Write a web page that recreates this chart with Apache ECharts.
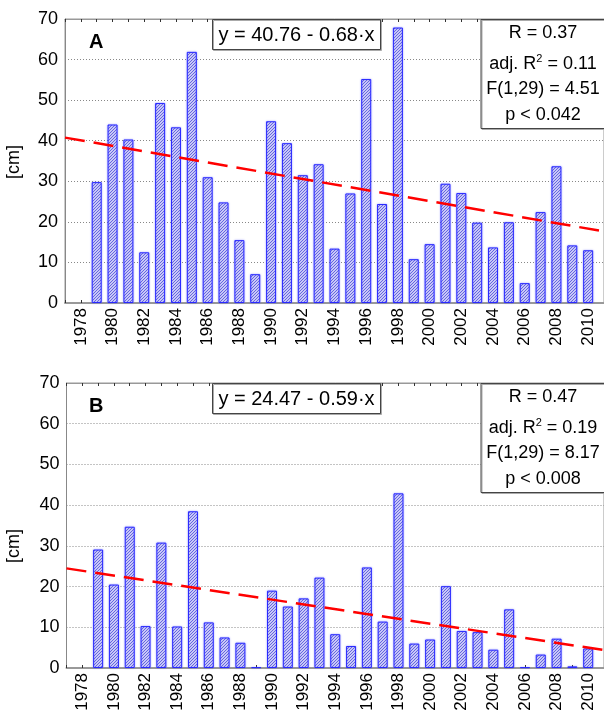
<!DOCTYPE html>
<html>
<head>
<meta charset="utf-8">
<script src="https://cdn.jsdelivr.net/npm/echarts@6/dist/echarts.min.js"></script>
<style>
html,body{margin:0;padding:0;background:#fff;}
#chart{width:604px;height:714px;}
</style>
</head>
<body>
<div id="chart"></div>
<script>
// ---- data ----
const years = [1979,1980,1981,1982,1983,1984,1985,1986,1987,1988,1989,1990,1991,1992,1993,1994,
               1995,1996,1997,1998,1999,2000,2001,2002,2003,2004,2005,2006,2007,2008,2009,2010];
const valuesA = [29.8,44.0,40.3,12.5,49.3,43.3,61.9,31.0,24.8,15.5,7.1,44.8,39.4,31.5,34.2,13.4,
                 27.0,55.2,24.4,67.9,10.8,14.5,29.4,27.1,19.8,13.7,19.9,4.9,22.4,33.7,14.2,13.0];
const valuesB = [29.1,20.5,34.7,10.3,30.8,10.2,38.5,11.2,7.5,6.2,0.2,19.0,15.1,17.1,22.2,8.3,
                 5.4,24.7,11.4,42.9,6.0,7.0,20.1,9.1,8.8,4.5,14.4,0.2,3.3,7.2,0.4,4.8];
const trendA = [[1977, 40.76],[2011, 17.64]];
const trendB = [[1977, 24.47],[2011, 4.41]];
const xTickLabels = ['1978','1980','1982','1984','1986','1988','1990','1992','1994','1996','1998','2000','2002','2004','2006','2008','2010'];
const yTicks = [0,10,20,30,40,50,60,70];
const panelLabels = ['A','B'];
const equations = ['y = 40.76 - 0.68·x','y = 24.47 - 0.59·x'];
const statsR = ['R = 0.37','R = 0.47'];
const statsAdj = ['0.11','0.19'];
const statsF = ['F(1,29) = 4.51','F(1,29) = 8.17'];
const statsP = ['p < 0.042','p < 0.008'];
const yName = '[cm]';

// ---- hatch pattern ----
function makeHatch(){
  const c = document.createElement('canvas');
  c.width = 3; c.height = 3;
  const g = c.getContext('2d');
  g.fillStyle = '#c9c9f7';
  g.fillRect(0,0,3,3);
  g.fillStyle = '#6666e0';
  for (let i=0;i<3;i++){ g.fillRect(i,2-i,1,1); }
  return c;
}
const hatch = {image: makeHatch(), repeat: 'repeat'};

const FONT = 'Liberation Sans, Arial, sans-serif';
const grids = [
  {left: 65, top: 19, height: 284, right: -3},
  {left: 66.5, top: 383, height: 285, right: -3}
];
const nameY = [162, 546];

const chart = echarts.init(document.getElementById('chart'), null, {renderer:'canvas'});

const xAxes = [], yAxes = [], series = [], graphics = [];
grids.forEach((g, i) => {
  g.show = true; g.borderColor = '#999'; g.borderWidth = 1; g.backgroundColor = 'transparent';
  xAxes.push({
    type: 'value', gridIndex: i, min: 1977, max: 2011, interval: 1, position: 'bottom',
    axisLine: {show: true, lineStyle: {color: '#999', width: 2}},
    axisTick: {show: true, inside: true, length: 3, lineStyle: {color: '#333'}},
    axisLabel: {rotate: 90, margin: 5, fontSize: 17, color: '#000', fontFamily: FONT,
      formatter: v => xTickLabels.includes(String(v)) ? String(v) : ''},
    splitLine: {show: false}
  });
  xAxes.push({
    type: 'value', gridIndex: i, min: 1977, max: 2011, interval: 1, position: 'top',
    axisLine: {show: true, lineStyle: {color: '#999', width: 1}},
    axisTick: {show: true, inside: true, length: 3, lineStyle: {color: '#333'}},
    axisLabel: {show: false}, splitLine: {show: false}
  });
  yAxes.push({
    type: 'value', gridIndex: i, min: yTicks[0], max: yTicks[yTicks.length-1], interval: 10,
    axisLine: {show: true, lineStyle: {color: '#888', width: 1}},
    axisTick: {show: false},
    axisLabel: {fontSize: 18, color: '#000', fontFamily: FONT, margin: 7},
    splitLine: {show: true, lineStyle: {color: '#888', width: 1, type: [1,2]}}
  });
  const vals = i === 0 ? valuesA : valuesB;
  series.push({
    type: 'bar', xAxisIndex: i*2, yAxisIndex: i, barWidth: 10,
    data: years.map((y, k) => [y, vals[k]]),
    itemStyle: {color: hatch, borderColor: '#2a2aff', borderWidth: 1,
      shadowColor: 'rgba(90,90,255,0.45)', shadowBlur: 2},
    emphasis: {disabled: true}, animation: false, z: 2
  });
  series.push({
    type: 'line', xAxisIndex: i*2, yAxisIndex: i,
    data: i === 0 ? trendA : trendB, symbol: 'none',
    lineStyle: {color: '#ff0000', width: 2.5, type: [20, 9]},
    animation: false, z: 5
  });

  const top = g.top;
  graphics.push({type: 'text', x: 14, y: nameY[i], rotation: Math.PI/2, z: 100,
    style: {text: yName, font: '18px ' + FONT, fill: '#000', align: 'center', verticalAlign: 'middle'}});
  graphics.push({type: 'text', left: 89, top: top + 13, z: 100,
    style: {text: panelLabels[i], font: 'bold 20px ' + FONT, fill: '#000'}});
  graphics.push({type: 'rect', shape: {x: 212.5, y: top + 0.5, width: 168, height: 30}, z: 100,
    style: {fill: '#fff', stroke: '#444', lineWidth: 1, shadowColor: '#aaa', shadowOffsetX: 1, shadowOffsetY: 1}});
  graphics.push({type: 'text', x: 296.5, y: top + 16, z: 101,
    style: {text: equations[i], font: '20px ' + FONT, fill: '#000', align: 'center', verticalAlign: 'middle'}});
  graphics.push({type: 'rect', shape: {x: 481, y: top + 0.5, width: 130, height: 109}, z: 100,
    style: {fill: '#fff', stroke: '#444', lineWidth: 1, shadowColor: '#aaa', shadowOffsetX: 1, shadowOffsetY: 1}});
  const cx = 543;
  graphics.push({type: 'text', x: cx, y: top + 14, z: 101,
    style: {text: statsR[i], font: '18px ' + FONT, fill: '#000', align: 'center', verticalAlign: 'middle'}});
  graphics.push({type: 'text', x: cx, y: top + 45, z: 101,
    style: {text: 'adj. R{s|2} = ' + statsAdj[i], font: '18px ' + FONT, fill: '#000', align: 'center', verticalAlign: 'middle',
      rich: {s: {fontSize: 11, fontFamily: FONT, verticalAlign: 'top', padding: [0,0,10,0]}}}});
  graphics.push({type: 'text', x: cx, y: top + 70.5, z: 101,
    style: {text: statsF[i], font: '18px ' + FONT, fill: '#000', align: 'center', verticalAlign: 'middle'}});
  graphics.push({type: 'text', x: cx, y: top + 96, z: 101,
    style: {text: statsP[i], font: '18px ' + FONT, fill: '#000', align: 'center', verticalAlign: 'middle'}});
});

chart.setOption({
  animation: false,
  backgroundColor: '#fff',
  grid: grids,
  xAxis: xAxes,
  yAxis: yAxes,
  series: series,
  graphic: graphics
});
</script>
</body>
</html>
